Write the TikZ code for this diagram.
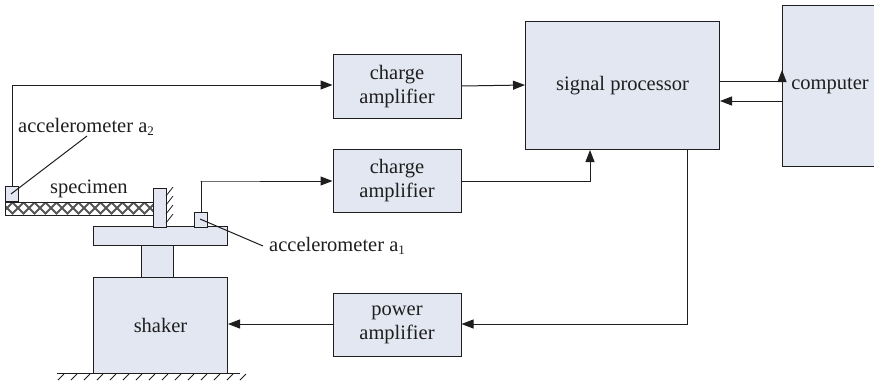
\documentclass[tikz,border=0pt]{standalone}
\usepackage{fontspec}
\setmainfont{Liberation Serif}
\usetikzlibrary{arrows.meta}
\definecolor{boxfill}{RGB}{227,231,242}
\definecolor{ink}{RGB}{30,30,30}
\newcommand{\lowsub}[1]{\raisebox{-3.5pt}{\fontsize{13}{13}\selectfont #1}}
\tikzset{
  blockbox/.style={draw=ink,fill=boxfill,line width=1pt,inner sep=0pt,align=center,font=\fontsize{20.5}{24}\selectfont,text=ink,anchor=north west},
  label/.style={inner sep=0pt,font=\fontsize{20.5}{24}\selectfont,text=ink,anchor=base west},
  conn/.style={draw=ink,line width=1pt,-{Triangle[length=12pt,width=9pt]}},
  plainline/.style={draw=ink,line width=1pt},
  hatchline/.style={draw=ink,line width=.8pt},
  meshline/.style={draw=ink!75,line width=1.9pt},
}
\begin{document}
\begin{tikzpicture}[x=1pt,y=-1pt]
\useasboundingbox (0,0) rectangle (874,384);
% specimen with woven hatching
\node[blockbox,fill=white,draw=none,minimum width=148pt,minimum height=12pt] (spec) at (5,202) {};
\begin{scope}
  \clip (spec.north west) rectangle (spec.south east);
  \foreach \x in {-10,1,...,170}{
    \draw[meshline] (\x,202) -- (\x+12,214);
    \draw[meshline] (\x+12,202) -- (\x,214);
  }
\end{scope}
\draw[plainline,line width=.6pt] (spec.north west) rectangle (spec.south east);
% blocks
\node[blockbox,minimum width=128pt,minimum height=64pt] (ca1) at (332.5,54) {charge\\amplifier};
\node[blockbox,minimum width=128pt,minimum height=63pt] (ca2) at (332.5,149) {charge\\amplifier};
\node[blockbox,minimum width=128pt,minimum height=63pt] (pa) at (332.5,293) {power\\amplifier};
\node[blockbox,minimum width=194pt,minimum height=128pt] (sp) at (525,21) {signal processor};
\node[blockbox,minimum width=95pt,minimum height=161pt] (pc) at (782,5) {computer};
\node[blockbox,minimum width=134pt,minimum height=96pt] (sh) at (93,277) {shaker};
\node[blockbox,minimum width=32pt,minimum height=37pt] (col) at (141,240) {};
\node[blockbox,minimum width=134pt,minimum height=19pt] (tb) at (93,226) {};
\node[blockbox,minimum width=13pt,minimum height=39pt] (up) at (153,188) {};
\node[blockbox,minimum width=13pt,minimum height=15pt] (s2) at (5,186) {};
\node[blockbox,minimum width=13pt,minimum height=15pt] (s1) at (194,212) {};
% hatched wall
\foreach \y in {196,205,...,228}{\draw[hatchline] (166,\y) -- (173,\y-9);}
% ground
\coordinate (g1) at (57,373);
\coordinate (g2) at (240,373);
\draw[plainline] (g1) -- (g2);
\foreach \x in {58,71,...,240}{\draw[hatchline] (\x,380) -- (\x+6,374);}
% labels
\node[label] (la2) at (18,132) {accelerometer a\lowsub{2}};
\node[label] (ls) at (50,193) {specimen};
\node[label] (la1) at (269,251) {accelerometer a\lowsub{1}};
% connectors
\coordinate (c1) at (12,85);
\draw[conn] (s2.north) |- (c1) -- (ca1.west |- c1);
\draw[conn] (ca1.east |- 0,86) -- (sp.west |- 0,85);
\coordinate (c2) at (200.5,181);
\draw[conn] (s1.north) |- (c2) -- (ca2.west |- c2);
\coordinate (c3) at (590,181);
\draw[conn] (ca2.east |- c3) -- (c3) -- (sp.south -| c3);
\coordinate (c4) at (687,324);
\draw[conn] (sp.south -| c4) -- (c4) -- (pa.east |- c4);
\draw[conn] (pa.west |- 0,324) -- (sh.east |- 0,324);
\coordinate (c5) at (782,81);
\draw[conn] (sp.east |- c5) -- (c5) -- +(0,-11);
\coordinate (c6) at (782,101);
\draw[conn] (pc.west |- c6) -- (sp.east |- c6);
% leaders
\coordinate (l2) at (87,136);
\coordinate (s2m) at (11,194);
\draw[plainline] (l2) -- (s2m);
\coordinate (l1) at (263,246);
\coordinate (s1m) at (200,219);
\draw[plainline] (l1) -- (s1m);
\end{tikzpicture}
\end{document}
